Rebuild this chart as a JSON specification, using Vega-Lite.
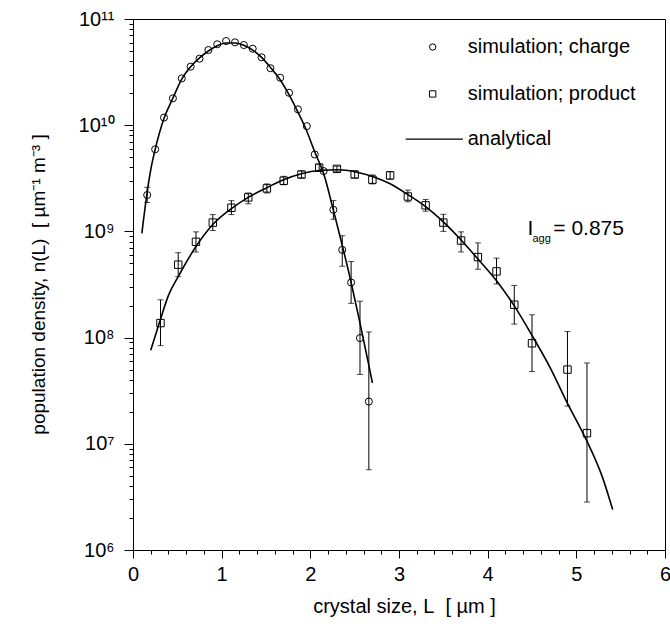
{
  "$schema": "https://vega.github.io/schema/vega-lite/v6.json",
  "width": 532,
  "height": 531,
  "autosize": {"type": "none"},
  "padding": {"left": 133, "top": 19, "right": 5, "bottom": 79},
  "background": "white",
  "config": {
    "view": {"stroke": "black", "strokeWidth": 1},
    "font": "Liberation Sans",
    "axis": {
      "domainColor": "black", "domainWidth": 1, "tickColor": "black", "tickWidth": 1,
      "labelColor": "black", "titleColor": "black", "grid": false,
      "labelFont": "Liberation Sans", "titleFont": "Liberation Sans",
      "labelFontSize": 20, "titleFontSize": 20, "titleFontWeight": "normal"
    }
  },
  "datasets": {
    "charge": [
      {"x": 0.16, "n": 2.2e9, "lo": 1.87e9, "hi": 2.6e9},
      {"x": 0.25, "n": 5.93e9},
      {"x": 0.35, "n": 1.18e10},
      {"x": 0.45, "n": 1.79e10},
      {"x": 0.55, "n": 2.76e10},
      {"x": 0.65, "n": 3.56e10},
      {"x": 0.75, "n": 4.23e10},
      {"x": 0.85, "n": 5.1e10},
      {"x": 0.95, "n": 5.78e10},
      {"x": 1.05, "n": 6.2e10},
      {"x": 1.15, "n": 6.03e10},
      {"x": 1.25, "n": 5.69e10},
      {"x": 1.35, "n": 5.25e10},
      {"x": 1.45, "n": 4.36e10},
      {"x": 1.55, "n": 3.44e10},
      {"x": 1.66, "n": 2.8e10},
      {"x": 1.76, "n": 2.02e10},
      {"x": 1.86, "n": 1.41e10},
      {"x": 1.96, "n": 9.8e9},
      {"x": 2.05, "n": 5.3e9},
      {"x": 2.15, "n": 3.7e9},
      {"x": 2.26, "n": 1.6e9, "lo": 1.3e9, "hi": 1.95e9},
      {"x": 2.36, "n": 6.7e8, "lo": 4.7e8, "hi": 9.1e8},
      {"x": 2.46, "n": 3.3e8, "lo": 2.1e8, "hi": 5.2e8},
      {"x": 2.56, "n": 9.9e7, "lo": 4.5e7, "hi": 2.2e8},
      {"x": 2.66, "n": 2.5e7, "lo": 5.7e6, "hi": 1.13e8}
    ],
    "product": [
      {"x": 0.31, "n": 1.37e8, "lo": 8.4e7, "hi": 2.27e8},
      {"x": 0.51, "n": 4.86e8, "lo": 3.75e8, "hi": 6.3e8},
      {"x": 0.71, "n": 7.98e8, "lo": 6.4e8, "hi": 9.9e8},
      {"x": 0.9, "n": 1.21e9, "lo": 1.02e9, "hi": 1.44e9},
      {"x": 1.11, "n": 1.67e9, "lo": 1.44e9, "hi": 1.95e9},
      {"x": 1.3, "n": 2.09e9, "lo": 1.82e9, "hi": 2.3e9},
      {"x": 1.51, "n": 2.54e9, "lo": 2.3e9, "hi": 2.8e9},
      {"x": 1.7, "n": 3.0e9, "lo": 2.75e9, "hi": 3.3e9},
      {"x": 1.9, "n": 3.43e9, "lo": 3.2e9, "hi": 3.7e9},
      {"x": 2.1, "n": 3.98e9, "lo": 3.7e9, "hi": 4.3e9},
      {"x": 2.3, "n": 3.88e9, "lo": 3.65e9, "hi": 4.1e9},
      {"x": 2.5, "n": 3.43e9, "lo": 3.2e9, "hi": 3.7e9},
      {"x": 2.7, "n": 3.07e9, "lo": 2.8e9, "hi": 3.4e9},
      {"x": 2.9, "n": 3.37e9, "lo": 3.1e9, "hi": 3.65e9},
      {"x": 3.1, "n": 2.13e9, "lo": 1.9e9, "hi": 2.45e9},
      {"x": 3.3, "n": 1.76e9, "lo": 1.55e9, "hi": 2.0e9},
      {"x": 3.5, "n": 1.21e9, "lo": 1.0e9, "hi": 1.45e9},
      {"x": 3.7, "n": 8.2e8, "lo": 6.4e8, "hi": 9.9e8},
      {"x": 3.89, "n": 5.73e8, "lo": 4.4e8, "hi": 7.8e8},
      {"x": 4.1, "n": 4.2e8, "lo": 3.2e8, "hi": 5.6e8},
      {"x": 4.3, "n": 2.04e8, "lo": 1.34e8, "hi": 3.1e8},
      {"x": 4.5, "n": 8.84e7, "lo": 4.8e7, "hi": 1.64e8},
      {"x": 4.9, "n": 5.0e7, "lo": 2.27e7, "hi": 1.14e8},
      {"x": 5.12, "n": 1.26e7, "lo": 2.83e6, "hi": 5.77e7}
    ],
    "curves": [
      {"series": "charge", "x": 0.10, "n": 9.6e8},
      {"series": "charge", "x": 0.16, "n": 2.35e9},
      {"series": "charge", "x": 0.20, "n": 3.8e9},
      {"series": "charge", "x": 0.25, "n": 5.9e9},
      {"series": "charge", "x": 0.35, "n": 1.16e10},
      {"series": "charge", "x": 0.45, "n": 1.8e10},
      {"series": "charge", "x": 0.55, "n": 2.72e10},
      {"series": "charge", "x": 0.65, "n": 3.55e10},
      {"series": "charge", "x": 0.75, "n": 4.3e10},
      {"series": "charge", "x": 0.85, "n": 5.0e10},
      {"series": "charge", "x": 0.95, "n": 5.6e10},
      {"series": "charge", "x": 1.05, "n": 5.95e10},
      {"series": "charge", "x": 1.15, "n": 5.95e10},
      {"series": "charge", "x": 1.25, "n": 5.65e10},
      {"series": "charge", "x": 1.35, "n": 5.1e10},
      {"series": "charge", "x": 1.45, "n": 4.35e10},
      {"series": "charge", "x": 1.55, "n": 3.5e10},
      {"series": "charge", "x": 1.65, "n": 2.75e10},
      {"series": "charge", "x": 1.75, "n": 2.0e10},
      {"series": "charge", "x": 1.85, "n": 1.38e10},
      {"series": "charge", "x": 1.95, "n": 9.2e9},
      {"series": "charge", "x": 2.05, "n": 5.6e9},
      {"series": "charge", "x": 2.15, "n": 3.5e9},
      {"series": "charge", "x": 2.25, "n": 1.71e9},
      {"series": "charge", "x": 2.35, "n": 8.0e8},
      {"series": "charge", "x": 2.45, "n": 3.6e8},
      {"series": "charge", "x": 2.55, "n": 1.5e8},
      {"series": "charge", "x": 2.65, "n": 6.0e7},
      {"series": "charge", "x": 2.70, "n": 3.75e7},
      {"series": "product", "x": 0.20, "n": 7.6e7},
      {"series": "product", "x": 0.30, "n": 1.4e8},
      {"series": "product", "x": 0.40, "n": 2.5e8},
      {"series": "product", "x": 0.51, "n": 3.75e8},
      {"series": "product", "x": 0.71, "n": 7.2e8},
      {"series": "product", "x": 0.90, "n": 1.16e9},
      {"series": "product", "x": 1.11, "n": 1.64e9},
      {"series": "product", "x": 1.30, "n": 2.09e9},
      {"series": "product", "x": 1.51, "n": 2.58e9},
      {"series": "product", "x": 1.70, "n": 3.07e9},
      {"series": "product", "x": 1.90, "n": 3.49e9},
      {"series": "product", "x": 2.10, "n": 3.75e9},
      {"series": "product", "x": 2.32, "n": 3.81e9},
      {"series": "product", "x": 2.50, "n": 3.65e9},
      {"series": "product", "x": 2.70, "n": 3.29e9},
      {"series": "product", "x": 2.90, "n": 2.81e9},
      {"series": "product", "x": 3.10, "n": 2.22e9},
      {"series": "product", "x": 3.30, "n": 1.71e9},
      {"series": "product", "x": 3.50, "n": 1.23e9},
      {"series": "product", "x": 3.70, "n": 8.3e8},
      {"series": "product", "x": 3.89, "n": 5.5e8},
      {"series": "product", "x": 4.10, "n": 3.43e8},
      {"series": "product", "x": 4.30, "n": 1.99e8},
      {"series": "product", "x": 4.50, "n": 1.05e8},
      {"series": "product", "x": 4.70, "n": 5.3e7},
      {"series": "product", "x": 4.90, "n": 2.4e7},
      {"series": "product", "x": 5.11, "n": 1.1e7},
      {"series": "product", "x": 5.30, "n": 4.7e6},
      {"series": "product", "x": 5.41, "n": 2.4e6}
    ],
    "legendSymbols": [
      {"shape": "circle", "x": 3.38, "n": 5.45e10},
      {"shape": "square", "x": 3.38, "n": 1.97e10}
    ],
    "legendLine": [
      {"x": 3.075, "x2": 3.72, "n": 7.41e9}
    ],
    "legendText": [
      {"label": "simulation; charge", "x": 3.775, "n": 5.45e10},
      {"label": "simulation; product", "x": 3.775, "n": 1.97e10},
      {"label": "analytical", "x": 3.775, "n": 7.41e9}
    ],
    "annotMain": [
      {"label": "I", "x": 4.45, "n": 1.055e9},
      {"label": "= 0.875", "x": 4.74, "n": 1.055e9}
    ],
    "annotSub": [
      {"label": "agg", "x": 4.505, "n": 8.5e8}
    ]
  },
  "layer": [
    {
      "data": {"name": "curves"},
      "mark": {"type": "line", "color": "black", "strokeWidth": 1.6, "interpolate": "monotone"},
      "encoding": {
        "x": {
          "field": "x", "type": "quantitative",
          "scale": {"domain": [0, 6], "nice": false, "zero": false},
          "title": "crystal size, L\u00a0\u00a0[ µm ]",
          "axis": {
            "values": [0, 0.2, 0.4, 0.6, 0.8, 1, 1.2, 1.4, 1.6, 1.8, 2, 2.2, 2.4, 2.6, 2.8, 3, 3.2, 3.4, 3.6, 3.8, 4, 4.2, 4.4, 4.6, 4.8, 5, 5.2, 5.4, 5.6, 5.8, 6],
            "tickCount": 200,
            "labelExpr": "abs(datum.value - round(datum.value)) < 0.001 ? format(datum.value, 'd') : ''",
            "labelOverlap": false,
            "labelFlush": false,
            "tickSize": {"condition": {"test": "abs(datum.value - round(datum.value)) < 0.001", "value": 8}, "value": 4},
            "labelPadding": 6,
            "titleX": 271,
            "titleY": 56,
            "titleAlign": "center",
            "titleBaseline": "middle"
          }
        },
        "y": {
          "field": "n", "type": "quantitative",
          "scale": {"type": "log", "domain": [1e6, 1e11], "nice": false},
          "title": "population density, n(L)\u00a0\u00a0[ µm⁻¹ m⁻³ ]",
          "axis": {
            "values": [1e6, 2e6, 3e6, 4e6, 5e6, 6e6, 7e6, 8e6, 9e6, 1e7, 2e7, 3e7, 4e7, 5e7, 6e7, 7e7, 8e7, 9e7, 1e8, 2e8, 3e8, 4e8, 5e8, 6e8, 7e8, 8e8, 9e8, 1e9, 2e9, 3e9, 4e9, 5e9, 6e9, 7e9, 8e9, 9e9, 1e10, 2e10, 3e10, 4e10, 5e10, 6e10, 7e10, 8e10, 9e10, 1e11],
            "tickCount": 200,
            "labelExpr": "datum.value == 1e11 ? '10¹¹' : datum.value == 1e10 ? '10¹⁰' : datum.value == 1e9 ? '10⁹' : datum.value == 1e8 ? '10⁸' : datum.value == 1e7 ? '10⁷' : datum.value == 1e6 ? '10⁶' : ''",
            "labelOverlap": false,
            "labelFlush": false,
            "tickSize": {"condition": {"test": "abs(log(datum.value)/LN10 - round(log(datum.value)/LN10)) < 0.001", "value": 9}, "value": 4},
            "labelPadding": 10,
            "titleFontSize": 19,
            "titleX": -95,
            "titleY": 265,
            "titleAngle": -90,
            "titleAlign": "center",
            "titleBaseline": "middle"
          }
        },
        "detail": {"field": "series", "type": "nominal"}
      }
    },
    {
      "data": {"name": "charge"},
      "transform": [{"filter": "isValid(datum.lo)"}],
      "mark": {"type": "errorbar", "color": "black", "thickness": 1, "ticks": {"size": 6, "thickness": 1, "color": "black"}},
      "encoding": {
        "x": {"field": "x", "type": "quantitative", "title": "crystal size, L\u00a0\u00a0[ µm ]"},
        "y": {"field": "lo", "type": "quantitative", "title": "population density, n(L)\u00a0\u00a0[ µm⁻¹ m⁻³ ]"},
        "y2": {"field": "hi"}
      }
    },
    {
      "data": {"name": "product"},
      "mark": {"type": "errorbar", "color": "black", "thickness": 1, "ticks": {"size": 6, "thickness": 1, "color": "black"}},
      "encoding": {
        "x": {"field": "x", "type": "quantitative", "title": "crystal size, L\u00a0\u00a0[ µm ]"},
        "y": {"field": "lo", "type": "quantitative", "title": "population density, n(L)\u00a0\u00a0[ µm⁻¹ m⁻³ ]"},
        "y2": {"field": "hi"}
      }
    },
    {
      "data": {"name": "charge"},
      "mark": {"type": "point", "shape": "circle", "filled": false, "stroke": "black", "strokeWidth": 1, "size": 50, "opacity": 1},
      "encoding": {
        "x": {"field": "x", "type": "quantitative", "title": "crystal size, L\u00a0\u00a0[ µm ]"},
        "y": {"field": "n", "type": "quantitative", "title": "population density, n(L)\u00a0\u00a0[ µm⁻¹ m⁻³ ]"}
      }
    },
    {
      "data": {"name": "product"},
      "mark": {"type": "point", "shape": "square", "filled": false, "stroke": "black", "strokeWidth": 1, "size": 55, "opacity": 1},
      "encoding": {
        "x": {"field": "x", "type": "quantitative", "title": "crystal size, L\u00a0\u00a0[ µm ]"},
        "y": {"field": "n", "type": "quantitative", "title": "population density, n(L)\u00a0\u00a0[ µm⁻¹ m⁻³ ]"}
      }
    },
    {
      "data": {"name": "legendSymbols"},
      "mark": {"type": "point", "filled": false, "stroke": "black", "strokeWidth": 1, "size": 40, "opacity": 1},
      "encoding": {
        "x": {"field": "x", "type": "quantitative", "title": "crystal size, L\u00a0\u00a0[ µm ]"},
        "y": {"field": "n", "type": "quantitative", "title": "population density, n(L)\u00a0\u00a0[ µm⁻¹ m⁻³ ]"},
        "shape": {"field": "shape", "type": "nominal", "scale": {"domain": ["circle", "square"], "range": ["circle", "square"]}, "legend": null}
      }
    },
    {
      "data": {"name": "legendLine"},
      "mark": {"type": "rule", "color": "black", "strokeWidth": 1.2},
      "encoding": {
        "x": {"field": "x", "type": "quantitative", "title": "crystal size, L\u00a0\u00a0[ µm ]"},
        "x2": {"field": "x2"},
        "y": {"field": "n", "type": "quantitative", "title": "population density, n(L)\u00a0\u00a0[ µm⁻¹ m⁻³ ]"}
      }
    },
    {
      "data": {"name": "legendText"},
      "mark": {"type": "text", "align": "left", "baseline": "middle", "font": "Liberation Sans", "fontSize": 20, "color": "black"},
      "encoding": {
        "x": {"field": "x", "type": "quantitative", "title": "crystal size, L\u00a0\u00a0[ µm ]"},
        "y": {"field": "n", "type": "quantitative", "title": "population density, n(L)\u00a0\u00a0[ µm⁻¹ m⁻³ ]"},
        "text": {"field": "label"}
      }
    },
    {
      "data": {"name": "annotMain"},
      "mark": {"type": "text", "align": "left", "baseline": "middle", "font": "Liberation Sans", "fontSize": 21, "color": "black"},
      "encoding": {
        "x": {"field": "x", "type": "quantitative", "title": "crystal size, L\u00a0\u00a0[ µm ]"},
        "y": {"field": "n", "type": "quantitative", "title": "population density, n(L)\u00a0\u00a0[ µm⁻¹ m⁻³ ]"},
        "text": {"field": "label"}
      }
    },
    {
      "data": {"name": "annotSub"},
      "mark": {"type": "text", "align": "left", "baseline": "middle", "font": "Liberation Sans", "fontSize": 11, "color": "black"},
      "encoding": {
        "x": {"field": "x", "type": "quantitative", "title": "crystal size, L\u00a0\u00a0[ µm ]"},
        "y": {"field": "n", "type": "quantitative", "title": "population density, n(L)\u00a0\u00a0[ µm⁻¹ m⁻³ ]"},
        "text": {"field": "label"}
      }
    }
  ]
}
